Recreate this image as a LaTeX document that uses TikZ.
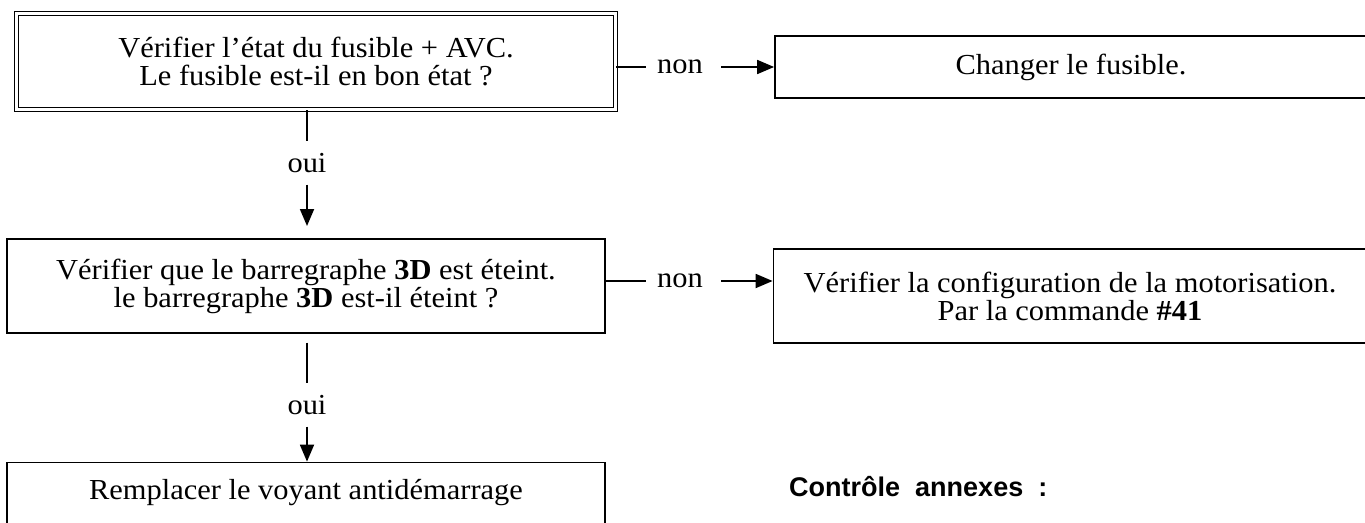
\documentclass[tikz,border=0pt]{standalone}
\usepackage{fontspec}
\setmainfont{Liberation Serif}[FakeStretch=1.05]
\newfontfamily\annexfont{Liberation Sans}
\usetikzlibrary{arrows.meta,calc}
\tikzset{
  >={Triangle[length=17pt,width=14pt]},
  every node/.style={font=\fontsize{29}{28}\selectfont},
}

\begin{document}
\begin{tikzpicture}[
  x=1pt, y=-1pt,
  line width=1.8pt,
  box/.style={draw, align=center, inner sep=0pt, minimum width=598.2pt, minimum height=94.2pt},
  dbox/.style={box, double, double distance=2.5pt, line width=1.4pt, minimum width=598.7pt, minimum height=95.7pt},
  lbl/.style={inner xsep=10.5pt, inner ysep=11pt}
]
\useasboundingbox (0,0) rectangle (1365,522);

% left column
\node[dbox] (fus) at (316,61.5) {Vérifier l’état du fusible + AVC.\\Le fusible est-il en bon état ?};
\node[box] (bar) at (306,286) {Vérifier que le barregraphe \textbf{3D} est éteint.\\le barregraphe \textbf{3D} est-il éteint ?};
\node[box, minimum height=61pt] (rep) at (306,493) {Remplacer le voyant antidémarrage};

% right column
\node[box, minimum width=592pt, minimum height=62.2pt] (chg) at (1071,67) {Changer le fusible.};
\node[box, minimum width=593pt] (cfg) at (1070,296) {Vérifier la configuration de la motorisation.\\Par la commande \textbf{\#41}};
\node[anchor=west, font=\annexfont\bfseries\fontsize{27}{30}\selectfont] (ann) at (785,487) {Contrôle~~annexes~~:};

% labels
\node[lbl] (non1) at (680,67) {non};
\node[lbl] (non2) at (680,281) {non};
\node[lbl] (oui1) at (307,163) {oui};
\node[lbl] (oui2) at (307,405) {oui};

\draw (fus.east |- non1) -- (non1);
\draw[->, shorten <=7pt] (non1) -- (non1 -| chg.west);
\draw (oui1 |- fus.south) -- (oui1);
\draw[->, shorten >=12pt] (oui1) -- (oui1 |- bar.north);

\draw (bar.east |- non2) -- (non2);
\draw[->, shorten <=7pt] (non2) -- (non2 -| cfg.west);
\draw[shorten <=8.5pt] (oui2 |- bar.south) -- (oui2);
\draw[->] (oui2) -- (oui2 |- rep.north);

\end{tikzpicture}
\end{document}
